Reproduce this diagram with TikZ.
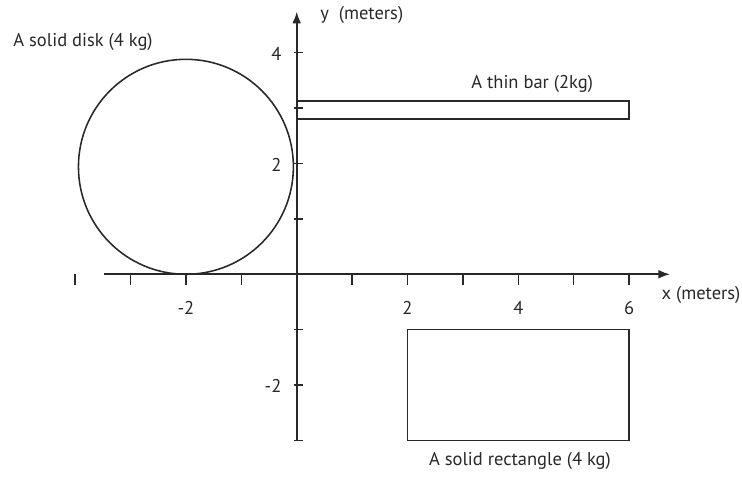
\documentclass[tikz,border=0pt]{standalone}
\usepackage{fontspec}
\setmainfont{PT Sans}
\usetikzlibrary{arrows.meta}
\definecolor{inkgray}{RGB}{40,40,40}

\begin{document}
\begin{tikzpicture}[
  every node/.style={font=\fontsize{9.5}{11}\selectfont, color=inkgray, inner sep=0pt},
  axisline/.style={-{Latex[length=6pt,width=4.5pt]}, line width=0.9pt, color=inkgray},
  tickmark/.style={line width=0.8pt, color=inkgray},
  body/.style={draw=inkgray, line width=0.8pt},
  caption/.style={anchor=base west}
]
  \useasboundingbox (-5.356,-3.767) rectangle (8.038,4.951);

  % Axes
  \coordinate (xmin) at (-3.47,0);
  \coordinate (xmax) at (6.74,0);
  \coordinate (ymin) at (0,-3);
  \coordinate (ymax) at (0,4.74);
  \draw[axisline] (xmin) -- (xmax);
  \draw[axisline] (ymin) -- (ymax);

  \foreach \x in {-4,-3,...,6}
    \draw[tickmark] (\x,0) -- (\x,-0.19);
  \foreach \y in {-3,-2,...,4}
    \draw[tickmark] (-0.04,\y) -- (0.12,\y);

  \foreach \x in {-2,2,4,6}
    \node[anchor=base] (xl\x) at (\x,-0.73) {\x};
  \foreach \y in {-2,2,4}
    \node[anchor=base east] (yl\y) at (-0.27,\y-0.14) {\y};

  \node[caption] (xname) at (6.58,-0.46) {x (meters)};
  \node[caption] (yname) at (0.42,4.59) {y\ \ (meters)};

  % Bodies
  \draw[body] (-2,1.94) circle (1.94);
  \draw[body] (0,2.8) rectangle (6,3.13);
  \draw[body] (2,-1) rectangle (6,-3);

  \node[caption] (disk) at (-5.12,4.12) {A solid disk (4 kg)};
  \node[anchor=base] (bar) at (4.25,3.36) {A thin bar (2kg)};
  \node[anchor=base] (slab) at (4.03,-3.45) {A solid rectangle (4 kg)};
\end{tikzpicture}
\end{document}
